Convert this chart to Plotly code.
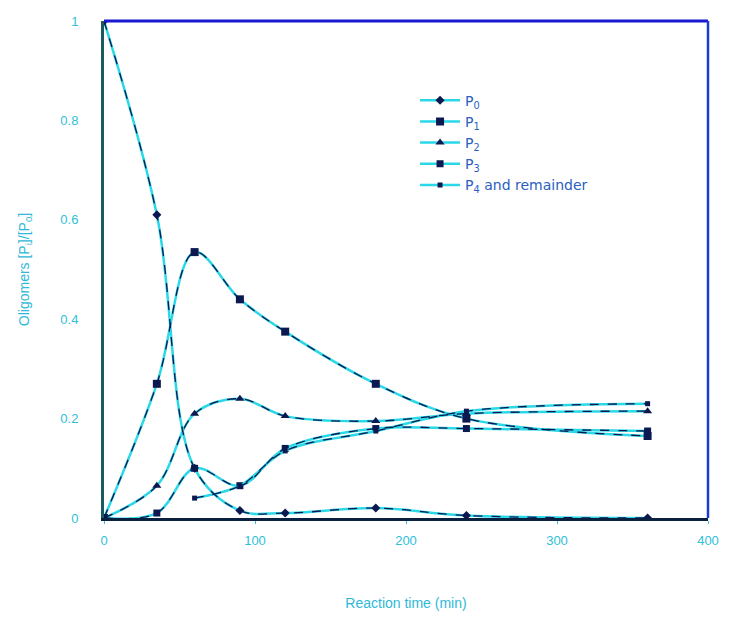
import plotly.graph_objects as go

time_min = [0, 35, 60, 90, 120, 180, 240, 360]
p0 = [1.0, 0.61, 0.10, 0.015, 0.01, 0.02, 0.005, 0.0]
p1 = [0.0, 0.27, 0.535, 0.44, 0.375, 0.27, 0.20, 0.165]
p2 = [0.0, 0.065, 0.21, 0.24, 0.205, 0.195, 0.21, 0.215]
p3 = [0.0, 0.01, 0.10, 0.065, 0.14, 0.18, 0.18, 0.175]
time_p4 = [60, 90, 120, 180, 240, 360]
p4 = [0.04, 0.065, 0.135, 0.175, 0.215, 0.23]

x_ticks = [0, 100, 200, 300, 400]
y_ticks = [0, 0.2, 0.4, 0.6, 0.8, 1]
y_tick_text = ["0", "0.2", "0.4", "0.6", "0.8", "1"]

series = [
    ("P<sub>0</sub>", time_min, p0, "diamond", 7),
    ("P<sub>1</sub>", time_min, p1, "square", 8),
    ("P<sub>2</sub>", time_min, p2, "triangle-up", 8),
    ("P<sub>3</sub>", time_min, p3, "square", 7),
    ("P<sub>4</sub> and remainder", time_p4, p4, "square", 5),
]

CYAN = "#2ad8e8"
NAVY = "#0c1850"

fig = go.Figure()
for name, xs, ys, sym, sz in series:
    fig.add_trace(go.Scatter(
        x=xs, y=ys, name=name, mode="lines+markers",
        line=dict(color=CYAN, width=2.5, shape="spline", smoothing=1.0),
        marker=dict(symbol=sym, size=sz, color=NAVY),
    ))
for name, xs, ys, sym, sz in series:
    fig.add_trace(go.Scatter(
        x=xs, y=ys, name=name, mode="lines", showlegend=False, hoverinfo="skip",
        line=dict(color=NAVY, width=1.3, shape="spline", smoothing=1.0, dash="dash"),
    ))

fig.add_shape(type="line", xref="x domain", yref="y domain", x0=0, x1=1, y0=1, y1=1,
              line=dict(color="#1818d0", width=3))
fig.add_shape(type="line", xref="x domain", yref="y domain", x0=1, x1=1, y0=0, y1=1,
              line=dict(color="#1a3cd0", width=2.5))

fig.update_layout(
    width=731, height=621,
    margin=dict(l=104, r=23, t=21, b=103),
    paper_bgcolor="white", plot_bgcolor="white",
    font=dict(family="Liberation Sans, Arial, sans-serif", color="#30c0d8", size=13),
    showlegend=True,
    legend=dict(x=0.515, y=0.872, xanchor="left", yanchor="top",
                bgcolor="rgba(0,0,0,0)",
                font=dict(family="DejaVu Sans, sans-serif", size=14, color="#2a60c0"),
                itemwidth=40, tracegroupgap=0),
    xaxis=dict(range=[0, 400], tickvals=x_ticks, showgrid=False, zeroline=False,
               showline=True, linecolor="#0a2040", linewidth=3,
               ticks="outside", ticklen=3, tickcolor="#30c0d8",
               ticklabelstandoff=5,
               title=dict(text="Reaction time (min)", standoff=52,
                          font=dict(size=14, color="#30b8d8"))),
    yaxis=dict(range=[0, 1], tickvals=y_ticks, ticktext=y_tick_text, showgrid=False,
               zeroline=False, showline=True, linecolor="#1a5a60", linewidth=3,
               ticks="", ticklabelstandoff=20,
               title=dict(text="Oligomers [P<sub>i</sub>]/[P<sub>0</sub>]", standoff=28,
                          font=dict(size=14, color="#30b8d8"))),
)

fig.write_html("out.html")
